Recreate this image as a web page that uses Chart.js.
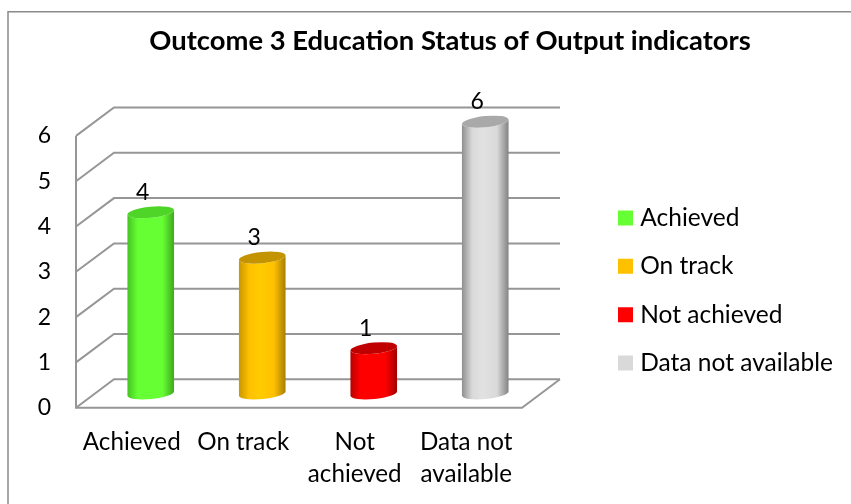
<!DOCTYPE html>
<html><head><meta charset="utf-8">
<style>html,body{margin:0;padding:0;background:#fff}canvas{display:block}</style>
<script src="https://cdn.jsdelivr.net/npm/chart.js@4"></script>
</head><body><canvas id="c" width="851" height="504"></canvas>
<script>
const categories = [["Achieved"], ["On track"], ["Not", "achieved"], ["Data not", "available"]];
const legendLabels = ["Achieved", "On track", "Not achieved", "Data not available"];
const values = [4, 3, 1, 6];
const colors = ["#66ff33", "#ffc000", "#ff0000", "#d9d9d9"];
const highlights = ["#66ff33", "#ffcc00", "#ff0000", "#e2e2e2"];
const edgeLeft = ["#45c222", "#c89600", "#b80000", "#8e8e8e"];
const edgeRight = ["#3fa81f", "#a67f00", "#a00000", "#828282"];
const capColors = ["#4fd428", "#c49400", "#c00000", "#a9a9a9"];
const titleText = "Outcome 3 Education Status of Output indicators";

const FONT = "Lato";
const DX = 38, DY = -28.4, GRID = "#969696";

const scene = {
  id: "scene",
  afterLayout(chart) {
    const l = chart.legend;
    l.left = 599.2; l.right = 851; l.top = 182; l.bottom = 504;
    const t = chart.titleBlock;
    t.left = 49; t.right = 851;
  },
  beforeDraw(chart) {
    const c = chart.ctx;
    c.save();
    c.strokeStyle = "#8a8a8a"; c.lineWidth = 1.5;
    c.beginPath(); c.moveTo(8, 504); c.lineTo(8, 11.7); c.lineTo(851, 11.7); c.stroke();
    c.restore();
  },
  beforeDatasetsDraw(chart) {
    const c = chart.ctx, x = chart.scales.x, y = chart.scales.y;
    c.save();
    c.strokeStyle = GRID; c.lineWidth = 2; c.lineJoin = "miter";
    y.ticks.forEach(t => {
      const p = y.getPixelForValue(t.value);
      c.beginPath();
      c.moveTo(x.left, p); c.lineTo(x.left + DX, p + DY); c.lineTo(x.right + DX, p + DY);
      c.stroke();
    });
    const p0 = y.getPixelForValue(0), p6 = y.getPixelForValue(6);
    c.beginPath();
    c.moveTo(x.left, p6); c.lineTo(x.left, p0); c.lineTo(x.right, p0); c.lineTo(x.right + DX, p0 + DY);
    c.stroke();
    c.restore();
  },
  beforeDatasetDraw(chart, args) {
    const c = chart.ctx, bars = args.meta.data;
    bars.forEach((b, i) => {
      const cx = b.x + DX / 2, top = b.y + DY / 2, base = b.base + DY / 2;
      const rx = b.width / 2, ry = 5.6, tilt = -0.1;
      const g = c.createLinearGradient(cx - rx, 0, cx + rx, 0);
      g.addColorStop(0, edgeLeft[i]); g.addColorStop(0.22, colors[i]);
      g.addColorStop(0.45, highlights[i]); g.addColorStop(0.75, colors[i]); g.addColorStop(1, edgeRight[i]);
      c.save();
      c.fillStyle = g;
      c.beginPath();
      c.ellipse(cx, top, rx, ry, tilt, Math.PI, 0, true);
      c.ellipse(cx, base, rx, ry, tilt, 0, Math.PI, false);
      c.closePath(); c.fill();
      c.fillStyle = capColors[i];
      c.beginPath(); c.ellipse(cx, top, rx, ry, tilt, 0, Math.PI * 2); c.fill();
      c.restore();
    });
    return false;
  },
  afterDatasetsDraw(chart) {
    const c = chart.ctx, bars = chart.getDatasetMeta(0).data;
    c.save();
    c.fillStyle = "#000"; c.font = "23px " + FONT;
    c.textAlign = "center"; c.textBaseline = "middle";
    bars.forEach((b, i) => c.fillText(String(values[i]), b.x + DX / 2 - 8, b.y + DY / 2 - 20));
    c.restore();
  }
};

new Chart(document.getElementById("c"), {
  type: "bar",
  data: { labels: categories, datasets: [{ label: "Status", data: values, backgroundColor: colors, categoryPercentage: 1, barPercentage: 0.42 }] },
  options: {
    responsive: false, animation: false,
    layout: { padding: { right: 329 } },
    plugins: {
      tooltip: { enabled: false },
      title: { display: true, text: titleText, color: "#000", font: { family: FONT, size: 27.4, weight: "bold", lineHeight: 1.2 }, padding: { top: 25, bottom: 78 } },
      legend: {
        display: true, position: "chartArea", align: "start",
        labels: {
          boxWidth: 5, boxHeight: 5, padding: 23.8, color: "#000", font: { family: FONT, size: 24.5 },
          generateLabels: () => legendLabels.map((t, i) => ({ text: t, fillStyle: colors[i], strokeStyle: colors[i], lineWidth: 10, hidden: false, index: i }))
        }
      }
    },
    scales: {
      x: {
        grid: { display: false }, border: { display: false },
        afterFit(s) { s.height = 504 - 407.7; },
        ticks: { color: "#000", padding: 11, autoSkip: false, maxRotation: 0, font: { family: FONT, size: 24.2, lineHeight: 1.32 } }
      },
      y: {
        min: 0, max: 6,
        grid: { display: false }, border: { display: false },
        afterFit(s) { s.width = 76; },
        ticks: { stepSize: 1, color: "#000", padding: 25, mirror: false, font: { family: FONT, size: 23 }, z: 0 },
        afterUpdate(s) { s.options.ticks.padding = 17; }
      }
    }
  },
  plugins: [scene]
});
</script></body></html>
